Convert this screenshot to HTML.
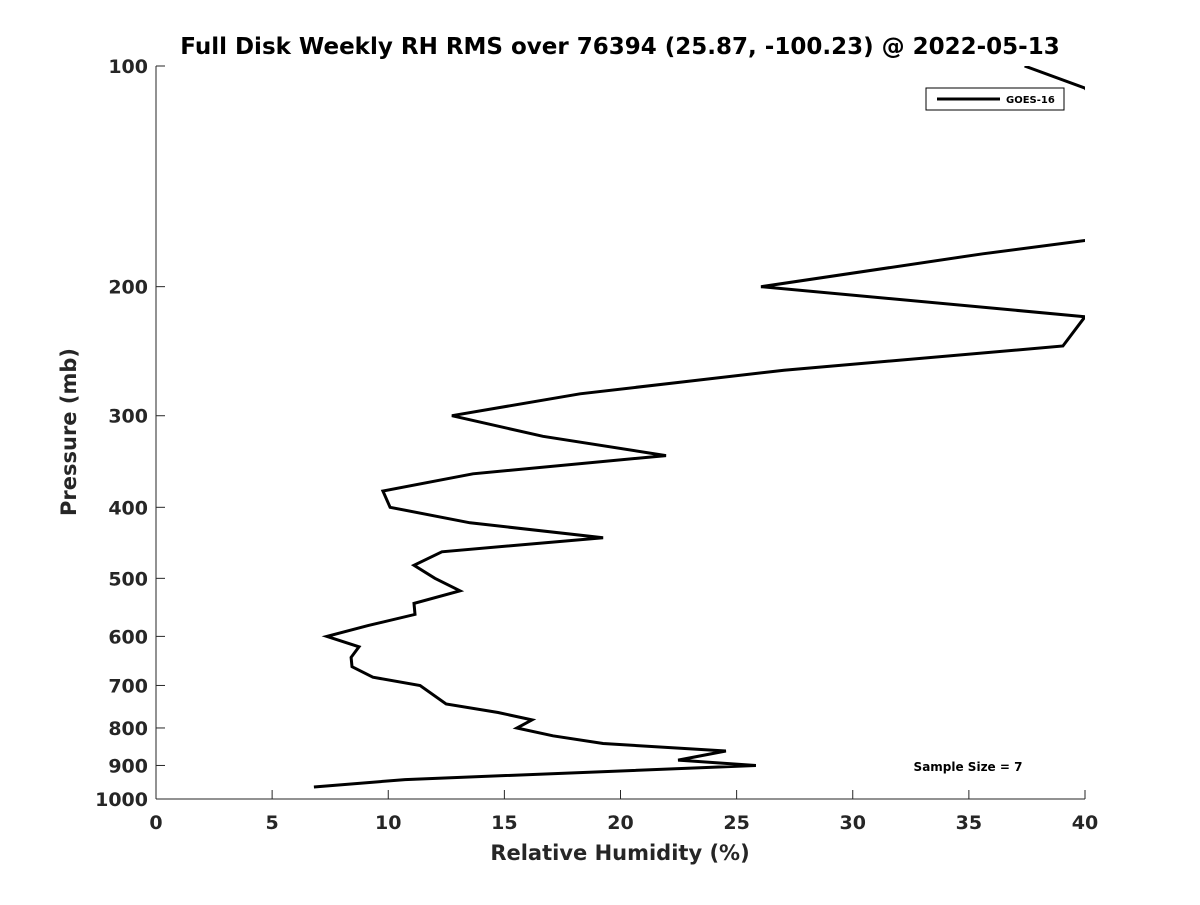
<!DOCTYPE html>
<html><head><meta charset="utf-8"><style>
body{margin:0;background:#fff;width:1200px;height:900px;overflow:hidden}
text{font-family:"DejaVu Sans","Liberation Sans",sans-serif;font-weight:bold;fill:#262626}
</style></head><body>
<svg id="chart" width="1200" height="900" viewBox="0 0 1200 900">
<defs><clipPath id="plotclip"><rect x="156" y="66" width="929" height="733"/></clipPath></defs>
<text x="620" y="54" text-anchor="middle" font-size="23" style="fill:#000">Full Disk Weekly RH RMS over 76394 (25.87, -100.23) @ 2022-05-13</text>
<g id="axes"></g>
<path id="series" fill="none" stroke="#000" stroke-width="3" stroke-linejoin="miter" clip-path="url(#plotclip)"/>
<g>
<rect x="926" y="88" width="138" height="22" fill="#fff" stroke="#000" stroke-width="1"/>
<line x1="937" y1="99" x2="1000" y2="99" stroke="#000" stroke-width="3"/>
<text x="1006" y="103" font-size="10" style="fill:#000">GOES-16</text>
</g>
<text x="968" y="771" text-anchor="middle" font-size="12" style="fill:#000">Sample Size = 7</text>
<text x="620" y="860" text-anchor="middle" font-size="21">Relative Humidity (%)</text>
<text transform="translate(76,432) rotate(-90)" text-anchor="middle" font-size="21">Pressure (mb)</text>
</svg>
<script>
const xTicks=[0,5,10,15,20,25,30,35,40];
const yTicks=[100,200,300,400,500,600,700,800,900,1000];
const rhValues=[37.4,40,45,40,35.6,26.05,40,39.05,27.04,18.26,12.74,16.66,21.96,13.65,9.77,10.08,13.52,19.25,12.31,11.11,12.01,13.09,11.11,11.15,9.13,7.36,8.74,8.40,8.44,9.34,11.37,12.49,14.73,16.19,15.54,17.09,19.25,24.54,22.48,25.83,10.72,6.8];
const pressures=[100,107.2,160,173,180.4,200,219.8,241,260,280,300,320,340,360,380,400,420,440,460,480,500,520,541,560,580,600,620,641,660,682,700,742,762,780,800,820,840,860,885,900,941,963];
const X0=156,X1=1085,Y0=66,Y1=799;
const xs=v=>X0+(v-0)/(40-0)*(X1-X0);
const ys=p=>Y0+(Math.log10(p)-2)/1*(Y1-Y0);
const NS='http://www.w3.org/2000/svg';
const ax=document.getElementById('axes');
function mk(t,a){const e=document.createElementNS(NS,t);for(const k in a)e.setAttribute(k,a[k]);ax.appendChild(e);return e;}
let e=mk('line',{x1:X0,y1:Y1,x2:X1,y2:Y1,stroke:'#262626','stroke-width':1});


e=mk('line',{x1:X0,y1:Y0,x2:X0,y2:Y1,stroke:'#262626','stroke-width':1});


xTicks.forEach(v=>{
 const x=xs(v);
 mk('line',{x1:x,y1:Y1,x2:x,y2:Y1-9,stroke:'#262626'});
 const t=mk('text',{x:x,y:Y1+30,'text-anchor':'middle','font-size':19});
 t.textContent=v;
 
 
});
yTicks.forEach(p=>{
 const y=ys(p);
 mk('line',{x1:X0,y1:y,x2:X0+9,y2:y,stroke:'#262626'});
 const t=mk('text',{x:X0-8,y:y+7,'text-anchor':'end','font-size':19});
 t.textContent=p;
 
 
});
document.getElementById('series').setAttribute('d',rhValues.map((v,i)=>(i?'L':'M')+xs(v).toFixed(1)+','+ys(pressures[i]).toFixed(1)).join(''));
</script>
</body></html>
